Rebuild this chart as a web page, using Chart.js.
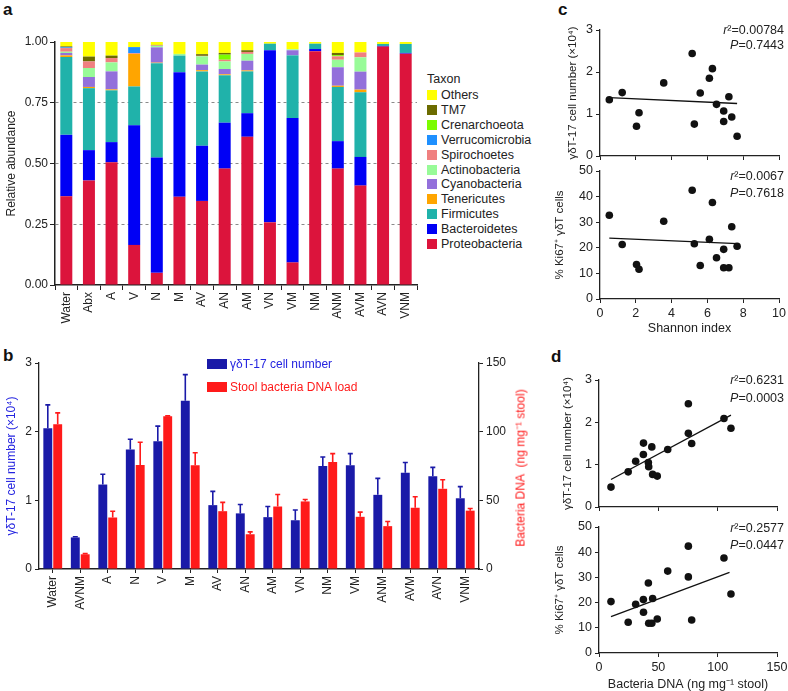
<!doctype html>
<html lang="en">
<head>
<meta charset="utf-8">
<title>Microbiota and γδT-17 cells</title>
<script src="https://cdn.jsdelivr.net/npm/chart.js@4.4.0/dist/chart.umd.min.js"></script>
<style>
    body { margin: 0; background: #fff; font-family: "Liberation Sans", Arial, sans-serif; overflow: hidden; }
    #page { position: relative; width: 788px; height: 691px; }
    canvas { position: absolute; }
    .txt { position: absolute; font-size: 12px; color: #222; white-space: nowrap; line-height: 14px; }
    .letter { position: absolute; font-weight: bold; font-size: 17px; color: #111; }
    .stat { position: absolute; right: 4px; font-size: 12.5px; color: #222; text-align: right; }
    .box { position: absolute; width: 10px; height: 10px; }
    .vtitle { position: absolute; font-size: 12px; white-space: nowrap; transform: translate(-50%, -50%) rotate(-90deg); }
</style>
</head>
<body>
<div id="page">
    <div class="letter" style="left:3px; top:0px;">a</div>
    <div class="letter" style="left:3px; top:346px;">b</div>
    <div class="letter" style="left:558px; top:0px;">c</div>
    <div class="letter" style="left:551px; top:347px;">d</div>

    <canvas id="chartA" width="420" height="330" style="left:0; top:0;"></canvas>
    <div id="legendA"></div>

    <canvas id="chartB" width="535" height="300" style="left:0; top:330px;"></canvas>
    <div class="box" style="left:207px; top:359px; width:20px; background:#1a1aa8;"></div>
    <div class="txt" style="left:230px; top:357px; color:#2323e0;">γδT-17 cell number</div>
    <div class="box" style="left:207px; top:382px; width:20px; background:#ff1a1a;"></div>
    <div class="txt" style="left:230px; top:380px; color:#ff1a1a;">Stool bacteria DNA load</div>
    <div class="vtitle" style="left:520px; top:468px; color:#ff1a1a;">Bacteria DNA&nbsp;&nbsp;(ng mg⁻¹ stool)</div>

    <canvas id="chartC1" width="258" height="165" style="left:530px; top:0;"></canvas>
    <canvas id="chartC2" width="258" height="180" style="left:530px; top:160px;"></canvas>
    <canvas id="chartD1" width="258" height="166" style="left:530px; top:350px;"></canvas>
    <canvas id="chartD2" width="258" height="176" style="left:530px; top:520px;"></canvas>

    <div class="stat" style="top:23px;"><i>r</i>²=0.00784</div>
    <div class="stat" style="top:38px;"><i>P</i>=0.7443</div>
    <div class="stat" style="top:169px;"><i>r</i>²=0.0067</div>
    <div class="stat" style="top:186px;"><i>P</i>=0.7618</div>
    <div class="stat" style="top:373px;"><i>r</i>²=0.6231</div>
    <div class="stat" style="top:391px;"><i>P</i>=0.0003</div>
    <div class="stat" style="top:521px;"><i>r</i>²=0.2577</div>
    <div class="stat" style="top:538px;"><i>P</i>=0.0447</div>
</div>

<script>
    // ---- panel a: relative abundance per group ----
    const groupsA = ['Water', 'Abx', 'A', 'V', 'N', 'M', 'AV', 'AN', 'AM', 'VN', 'VM', 'NM', 'ANM', 'AVM', 'AVN', 'VNM'];
    const proteobacteria = [0.365, 0.43, 0.505, 0.165, 0.05, 0.363, 0.346, 0.479, 0.61, 0.258, 0.093, 0.962, 0.479, 0.409, 0.981, 0.952];
    const bacteroidetes = [0.253, 0.125, 0.083, 0.492, 0.475, 0.513, 0.227, 0.189, 0.097, 0.708, 0.594, 0.009, 0.113, 0.118, 0.003, 0.003];
    const firmicutes = [0.32, 0.255, 0.213, 0.16, 0.388, 0.068, 0.306, 0.195, 0.172, 0.027, 0.258, 0.022, 0.223, 0.266, 0.008, 0.037];
    const tenericutes = [0.007, 0.005, 0.004, 0.134, 0.002, 0, 0.005, 0.004, 0.004, 0, 0, 0, 0.005, 0.011, 0, 0];
    const cyanobacteria = [0.01, 0.041, 0.074, 0, 0.063, 0, 0.023, 0.022, 0.04, 0, 0.021, 0, 0.076, 0.074, 0, 0];
    const actinobacteria = [0.005, 0.037, 0.037, 0, 0.006, 0.007, 0.034, 0.031, 0.028, 0, 0.004, 0, 0.031, 0.059, 0, 0];
    const spirochoetes = [0.015, 0.027, 0.018, 0.003, 0.002, 0, 0.002, 0.007, 0.008, 0, 0, 0, 0.014, 0.02, 0, 0];
    const verrucomicrobia = [0.003, 0, 0, 0.025, 0, 0, 0, 0, 0, 0, 0, 0, 0, 0, 0, 0];
    const crenarchoeota = [0, 0, 0, 0, 0, 0, 0, 0.021, 0, 0, 0, 0, 0.005, 0, 0, 0];
    const tm7 = [0.004, 0.02, 0.01, 0, 0.002, 0, 0.007, 0.007, 0.007, 0, 0, 0, 0.009, 0, 0, 0];
    const others = [0.018, 0.06, 0.056, 0.021, 0.012, 0.049, 0.05, 0.045, 0.034, 0.007, 0.03, 0.007, 0.045, 0.043, 0.008, 0.008];
    const abundanceTicks = [0, 0.25, 0.5, 0.75, 1];

    // ---- panel b: gdT-17 cells and stool DNA ----
    const groupsB = ['Water', 'AVNM', 'A', 'N', 'V', 'M', 'AV', 'AN', 'AM', 'VN', 'NM', 'VM', 'ANM', 'AVM', 'AVN', 'VNM'];
    const gdCells = [2.05, 0.46, 1.23, 1.74, 1.86, 2.45, 0.93, 0.81, 0.755, 0.71, 1.50, 1.51, 1.08, 1.40, 1.35, 1.03];
    const gdCellsSem = [0.34, 0.01, 0.15, 0.15, 0.22, 0.38, 0.20, 0.13, 0.155, 0.15, 0.13, 0.17, 0.24, 0.15, 0.13, 0.17];
    const dnaLoad = [105.4, 10.7, 37.5, 75.7, 111.3, 75.5, 42.1, 25.3, 45.5, 49.2, 77.9, 38.0, 31.2, 44.6, 58.4, 42.5];
    const dnaLoadSem = [8.3, 0.5, 4.6, 16.6, 0.2, 9.2, 6.4, 1.7, 8.8, 1.4, 6.1, 3.4, 3.4, 8.0, 6.6, 1.5];

    // ---- panel c: vs Shannon index ----
    const shannon = [0.52, 1.24, 2.04, 2.18, 3.56, 5.15, 5.27, 5.6, 6.11, 6.28, 6.51, 6.91, 6.91, 7.2, 7.36, 7.66];
    const cellsC = [1.34, 1.51, 0.71, 1.03, 1.74, 2.44, 0.76, 1.50, 1.85, 2.08, 1.23, 1.07, 0.82, 1.41, 0.93, 0.47];
    const ki67C = [32.7, 21.3, 13.5, 11.6, 30.4, 42.5, 21.6, 13.1, 23.3, 37.7, 16.1, 19.4, 12.2, 12.2, 28.2, 20.6];
    const fitCellsC = [[0.52, 1.39], [7.66, 1.25]];
    const fitKi67C = [[0.52, 23.8], [7.69, 21.6]];

    // ---- panel d: vs bacteria DNA ----
    const bactDNA = [10.1, 24.6, 30.9, 37.4, 37.5, 41.6, 41.9, 44.5, 45.2, 49.1, 57.9, 75.3, 75.3, 78.1, 105.3, 111.2];
    const cellsD = [0.47, 0.83, 1.08, 1.24, 1.51, 1.05, 0.95, 1.42, 0.77, 0.73, 1.36, 2.44, 1.74, 1.50, 2.09, 1.86];
    const ki67D = [20.4, 12.2, 19.3, 21.2, 16.2, 27.8, 11.8, 11.8, 21.6, 13.5, 32.5, 42.4, 30.2, 13.1, 37.7, 23.4];
    const fitCellsD = [[10.1, 0.65], [111.2, 2.17]];
    const fitKi67D = [[10.1, 14.4], [110, 32.0]];
</script>

<script>
    Chart.defaults.font.family = '"Liberation Sans", Arial, sans-serif';
    Chart.defaults.font.size = 12;
    Chart.defaults.color = '#222';
    Chart.defaults.animation = false;
    Chart.defaults.plugins.legend.display = false;
    Chart.defaults.plugins.tooltip.enabled = false;

    const ink = '#222';

    // force axis size so the plot areas land where the figure has them
    function fixW(w) {
        return function (s) {
            s.width = w;
            s.paddingTop = s.paddingBottom = s.paddingLeft = s.paddingRight = 0;
        };
    }
    function fixH(h) {
        return function (s) {
            s.height = h;
            s.paddingTop = s.paddingBottom = s.paddingLeft = s.paddingRight = 0;
        };
    }

    const errorBars = {
        id: 'errorBars',
        afterDatasetsDraw(chart) {
            const ctx = chart.ctx;
            chart.data.datasets.forEach(function (ds, i) {
                if (!ds.sem) return;
                const meta = chart.getDatasetMeta(i);
                const sc = chart.scales[ds.yAxisID];
                ctx.save();
                ctx.strokeStyle = ds.backgroundColor;
                ctx.lineWidth = 1.6;
                meta.data.forEach(function (bar, j) {
                    const top = sc.getPixelForValue(ds.data[j] + ds.sem[j]);
                    ctx.beginPath();
                    ctx.moveTo(bar.x, bar.y);
                    ctx.lineTo(bar.x, top);
                    ctx.moveTo(bar.x - 2.5, top);
                    ctx.lineTo(bar.x + 2.5, top);
                    ctx.stroke();
                });
                ctx.restore();
            });
        }
    };

    // ----- a -----
    const taxa = [
        ['Proteobacteria', proteobacteria, '#dc143c'],
        ['Bacteroidetes', bacteroidetes, '#0000f5'],
        ['Firmicutes', firmicutes, '#20b2aa'],
        ['Tenericutes', tenericutes, '#ffa500'],
        ['Cyanobacteria', cyanobacteria, '#9370db'],
        ['Actinobacteria', actinobacteria, '#98fb98'],
        ['Spirochoetes', spirochoetes, '#f08080'],
        ['Verrucomicrobia', verrucomicrobia, '#1e90ff'],
        ['Crenarchoeota', crenarchoeota, '#7cfc00'],
        ['TM7', tm7, '#6b6b00'],
        ['Others', others, '#ffff00']
    ];

    new Chart(document.getElementById('chartA'), {
        type: 'bar',
        data: {
            labels: groupsA,
            datasets: taxa.map(t => ({
                label: t[0], data: t[1], backgroundColor: t[2],
                categoryPercentage: 1, barPercentage: 0.53
            }))
        },
        options: {
            responsive: false,
            layout: {padding: {left: 0, top: 42, right: 3, bottom: 0}},
            scales: {
                x: {
                    stacked: true,
                    afterFit: fixH(45),
                    grid: {drawOnChartArea: false, tickLength: 5, tickColor: ink},
                    border: {color: ink, width: 1.5},
                    ticks: {minRotation: 90, maxRotation: 90, autoSkip: false, padding: 2, color: ink}
                },
                y: {
                    stacked: true, min: 0, max: 1,
                    afterFit: fixW(55),
                    afterBuildTicks: s => { s.ticks = abundanceTicks.map(v => ({value: v})); },
                    grid: {
                        color: c => (c.tick && c.tick.value > 0 && c.tick.value < 1) ? '#8a8a8a' : 'rgba(0,0,0,0)',
                        lineWidth: 1, tickLength: 5, tickColor: ink
                    },
                    border: {color: ink, width: 1.5, dash: [3, 3]},
                    ticks: {padding: 2, color: ink, callback: v => Number(v).toFixed(2)},
                    title: {display: true, text: 'Relative abundance', color: ink, font: {size: 12}}
                }
            }
        }
    });

    // legend of panel a (top item = last stack layer)
    let legendHtml = '<div class="txt" style="left:427px; top:72px; font-size:12.5px;">Taxon</div>';
    taxa.slice().reverse().forEach(function (t, k) {
        const y = 90 + k * 14.9;
        legendHtml += '<div class="box" style="left:427px; top:' + y + 'px; background:' + t[2] + ';"></div>';
        legendHtml += '<div class="txt" style="left:441px; top:' + (y - 2) + 'px; font-size:12.5px;">' + t[0] + '</div>';
    });
    document.getElementById('legendA').innerHTML = legendHtml;

    // ----- b -----
    new Chart(document.getElementById('chartB'), {
        type: 'bar',
        data: {
            labels: groupsB,
            datasets: [
                {label: 'γδT-17 cell number', data: gdCells, sem: gdCellsSem, yAxisID: 'y',
                    backgroundColor: '#1a1aa8', categoryPercentage: 0.72, barPercentage: 0.9},
                {label: 'Stool bacteria DNA load', data: dnaLoad, sem: dnaLoadSem, yAxisID: 'y2',
                    backgroundColor: '#ff1a1a', categoryPercentage: 0.72, barPercentage: 0.9}
            ]
        },
        options: {
            responsive: false,
            layout: {padding: {left: 0, top: 33, right: 4, bottom: 0}},
            scales: {
                x: {
                    afterFit: fixH(61),
                    grid: {drawOnChartArea: false, offset: false, tickLength: 4, tickColor: ink},
                    border: {color: ink, width: 1.5},
                    ticks: {minRotation: 90, maxRotation: 90, autoSkip: false, padding: 3, color: ink}
                },
                y: {
                    position: 'left', min: 0, max: 3,
                    afterFit: fixW(39),
                    grid: {drawOnChartArea: false, tickLength: 4, tickColor: ink},
                    border: {color: ink, width: 1.3},
                    ticks: {stepSize: 1, padding: 3, color: ink},
                    title: {display: true, text: 'γδT-17 cell number (×10⁴)', color: '#2323e0', font: {size: 12}}
                },
                y2: {
                    position: 'right', min: 0, max: 150,
                    afterFit: fixW(52),
                    grid: {drawOnChartArea: false, tickLength: 4, tickColor: ink},
                    border: {color: ink, width: 1.3},
                    ticks: {stepSize: 50, padding: 3, color: ink}
                }
            }
        },
        plugins: [errorBars]
    });

    // ----- c and d -----
    function scatterChart(id, xs, ys, fit, opt) {
        const pts = xs.map((x, i) => ({x: x, y: ys[i]}));
        return new Chart(document.getElementById(id), {
            type: 'scatter',
            data: {
                datasets: [
                    {data: pts, pointRadius: 3.8, backgroundColor: '#111', borderWidth: 0},
                    {data: fit.map(p => ({x: p[0], y: p[1]})), showLine: true, pointRadius: 0,
                        borderColor: '#111', borderWidth: 1.3}
                ]
            },
            options: {
                responsive: false,
                layout: {padding: opt.pad},
                scales: {
                    x: {
                        min: 0, max: opt.xMax,
                        afterFit: fixH(opt.xH),
                        grid: {drawOnChartArea: false, tickLength: 4, tickColor: ink},
                        border: {color: ink, width: 1.3},
                        ticks: {stepSize: opt.xStep, display: opt.xLabels, padding: 3, color: ink, font: {size: 12.5}},
                        title: {display: !!opt.xTitle, text: opt.xTitle || '', color: ink, font: {size: 12.5}}
                    },
                    y: {
                        min: 0, max: opt.yMax,
                        afterFit: fixW(opt.yW),
                        grid: {drawOnChartArea: false, tickLength: 4, tickColor: ink},
                        border: {color: ink, width: 1.3},
                        ticks: {stepSize: opt.yStep, padding: 3, color: ink, font: {size: 12.5}},
                        title: {display: true, text: opt.yTitle, color: ink, font: {size: 11.5}}
                    }
                }
            }
        });
    }

    scatterChart('chartC1', shannon, cellsC, fitCellsC, {
        pad: {left: 32, top: 30, right: 9, bottom: 0}, yW: 38, xH: 9,
        xMax: 10, xStep: 2, xLabels: false, yMax: 3, yStep: 1,
        yTitle: 'γδT-17 cell number (×10⁴)'
    });
    scatterChart('chartC2', shannon, ki67C, fitKi67C, {
        pad: {left: 19, top: 11, right: 9, bottom: 0}, yW: 51, xH: 41,
        xMax: 10, xStep: 2, xLabels: true, xTitle: 'Shannon index', yMax: 50, yStep: 10,
        yTitle: '% Ki67⁺ γδT cells'
    });
    scatterChart('chartD1', bactDNA, cellsD, fitCellsD, {
        pad: {left: 27, top: 30, right: 11, bottom: 0}, yW: 42, xH: 9,
        xMax: 150, xStep: 50, xLabels: false, yMax: 3, yStep: 1,
        yTitle: 'γδT-17 cell number (×10⁴)'
    });
    scatterChart('chartD2', bactDNA, ki67D, fitKi67D, {
        pad: {left: 19, top: 7, right: 11, bottom: 0}, yW: 50, xH: 43,
        xMax: 150, xStep: 50, xLabels: true, xTitle: 'Bacteria DNA (ng mg⁻¹ stool)', yMax: 50, yStep: 10,
        yTitle: '% Ki67⁺ γδT cells'
    });
</script>
</body>
</html>
